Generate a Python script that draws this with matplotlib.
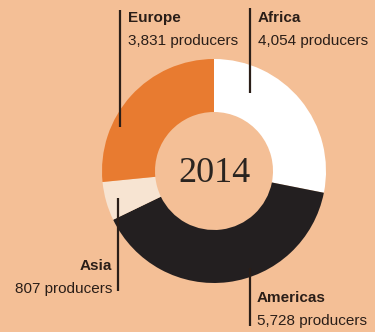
import matplotlib
matplotlib.use("Agg")
import matplotlib.pyplot as plt

regions = ["Africa", "Americas", "Asia", "Europe"]
producers = [4054, 5728, 807, 3831]
colors = ["#FFFFFF", "#231F20", "#F7E4D2", "#E87B30"]
year_label = "2014"

BG = "#F4BF96"
W, H = 375, 332
fig = plt.figure(figsize=(W / 100, H / 100), dpi=100, facecolor=BG)
ax = fig.add_axes([0, 0, 1, 1])
ax.set_facecolor(BG)

cx, cy, R = 214, H - 171, 112
ax.pie(producers, colors=colors, startangle=90, counterclock=False,
       center=(cx, cy), radius=R, frame=True,
       wedgeprops=dict(width=53, linewidth=0))
ax.set_xlim(0, W)
ax.set_ylim(0, H)
ax.set_aspect("equal")
ax.axis("off")

ax.text(cx + 1, cy - 3, year_label, ha="center", va="center", fontsize=26,
        family="Liberation Serif", color="#2A2420")

line_kw = dict(color="#2A1E18", lw=1.6, solid_capstyle="butt")
# (x, y_top, y_bottom) in pixel coords from the top
leaders = {
    "Europe": (120, 10, 127),
    "Africa": (250, 8, 93),
    "Asia": (118, 198, 291),
    "Americas": (250, 268, 326),
}
for name, (x, y0, y1) in leaders.items():
    ax.plot([x, x], [H - y0, H - y1], **line_kw)

txt_kw = dict(family="Liberation Sans", fontsize=11, color="#2A1E18")
label_pos = {
    "Europe": (128, 18, "left"),
    "Africa": (258, 18, "left"),
    "Asia": (112, 266, "right"),
    "Americas": (257, 298, "left"),
}
for name, val in zip(regions, producers):
    x, y, ha = label_pos[name]
    ax.text(x, H - y, name, ha=ha, va="center", fontweight="bold", **txt_kw)
    ax.text(x, H - y - 23, f"{val:,} producers", ha=ha, va="center", **txt_kw)

fig.savefig("out.png", dpi=100, facecolor=BG)
